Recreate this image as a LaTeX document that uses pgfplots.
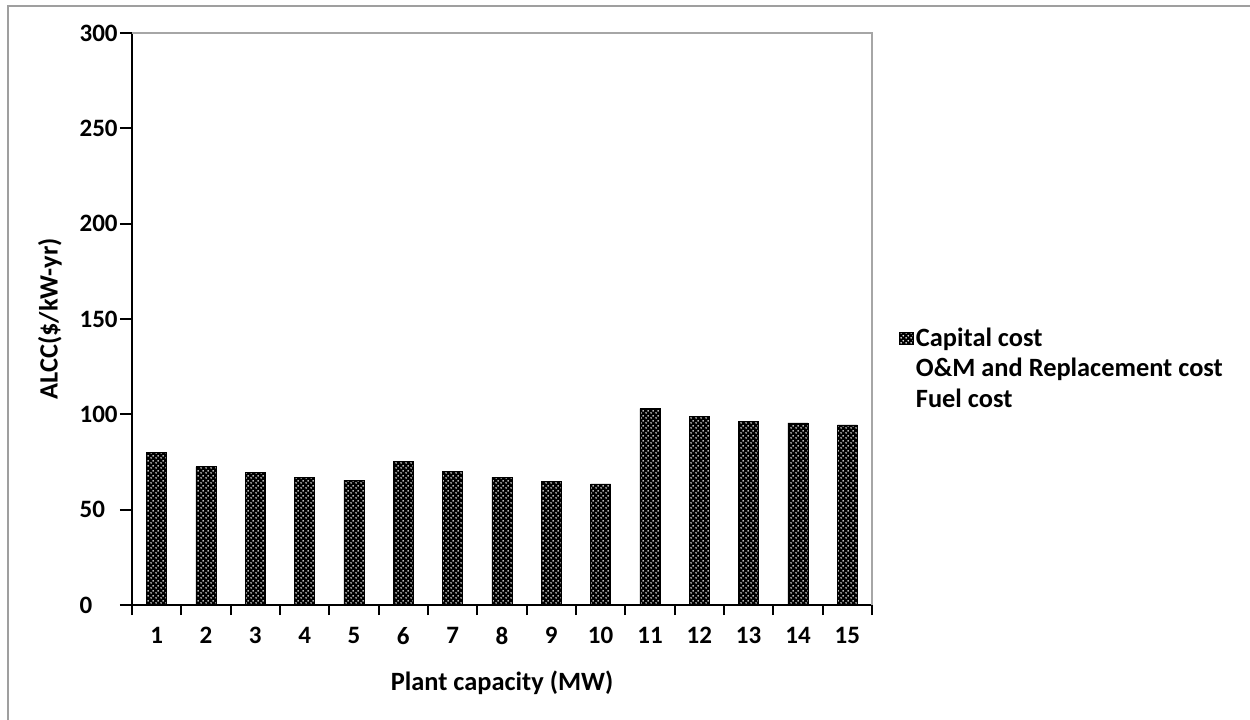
\documentclass[border=0pt]{standalone}
\usepackage{pgfplots}
\pgfplotsset{compat=1.18}
\usepackage{fontspec}
\setmainfont{Carlito}
\usetikzlibrary{patterns.meta}

% staggered white dots laid over a black fill
\pgfdeclarepattern{
  name=whitedots,
  type=uncolored,
  bottom left={\pgfpoint{0pt}{0pt}},
  top right={\pgfpoint{2.5pt}{2.5pt}},
  tile size={\pgfpoint{2.5pt}{2.5pt}},
  code={
    \pgfpathcircle{\pgfpoint{0.625pt}{0.625pt}}{0.5pt}
    \pgfpathcircle{\pgfpoint{1.875pt}{1.875pt}}{0.5pt}
    \pgfusepath{fill}
  }
}

\newcommand{\chartfont}{\bfseries\fontsize{12.5}{15}\selectfont}
\newcommand{\labelfont}{\bfseries\fontsize{13.2}{16}\selectfont}

\begin{document}
\begin{tikzpicture}
\useasboundingbox (0,0) rectangle (625pt,359.5pt);
% outer frame
\draw[gray!75, line width=1pt] (4pt,-20pt) -- (4pt,356.5pt) -- (660pt,356.5pt);
\begin{axis}[
  at={(66pt,57pt)}, anchor=south west,
  scale only axis, width=370pt, height=286pt,
  xmin=0.5, xmax=15.5, ymin=0, ymax=300,
  axis x line*=bottom, axis y line*=left,
  axis line style={black, line width=1pt},
  xtick={1,...,15},
  minor xtick={0.5,1.5,...,15.5},
  ytick={0,50,...,300},
  tick align=outside,
  major tick length=6pt, minor tick length=5pt,
  tick style={black, line width=1pt},
  major x tick style={draw=none},
  /pgf/number format/assume math mode=true,
  tick label style={font=\chartfont},
  xticklabel style={yshift=-1.5pt},
  yticklabel style={text width=19pt, align=left, inner sep=0pt, anchor=east, xshift=-1pt},
  xlabel={Plant capacity (MW)},
  ylabel={ALCC(\$/kW-yr)},
  label style={font=\labelfont},
  x label style={at={(axis description cs:0.5,0)}, anchor=center, yshift=-39pt},
  y label style={at={([xshift=-41pt]axis description cs:0,0.5)}, anchor=center},
  ybar, bar width=10pt,
  legend style={at={([xshift=-2.5pt,yshift=-1.5pt]axis description cs:1.035,0.418)}, anchor=west, draw=none, fill=none,
    font=\labelfont, row sep=2.5pt, cells={anchor=west},
    nodes={inner sep=1pt}},
  legend image code/.code={\path[#1] (0pt,-3.2pt) rectangle (7pt,3.2pt);},
  after end axis/.code={
    \draw[gray!70, line width=0.7pt] (rel axis cs:0,1) -- (rel axis cs:1,1) -- (rel axis cs:1,0);
  },
]
\addplot[draw=black, line width=0.3pt, fill=black,
  postaction={pattern=whitedots, pattern color=white}]
  coordinates {
    (1,80) (2,72.5) (3,69.5) (4,67) (5,65.5)
    (6,75.5) (7,70) (8,67) (9,65) (10,63.5)
    (11,103) (12,99) (13,96.5) (14,95.5) (15,94.5)
  };
\addlegendentry{Capital cost}
\addlegendimage{draw=none, fill=none}
\addlegendentry{O\&M and Replacement cost}
\addlegendimage{draw=none, fill=none}
\addlegendentry{Fuel cost}
\end{axis}
\end{tikzpicture}
\end{document}
